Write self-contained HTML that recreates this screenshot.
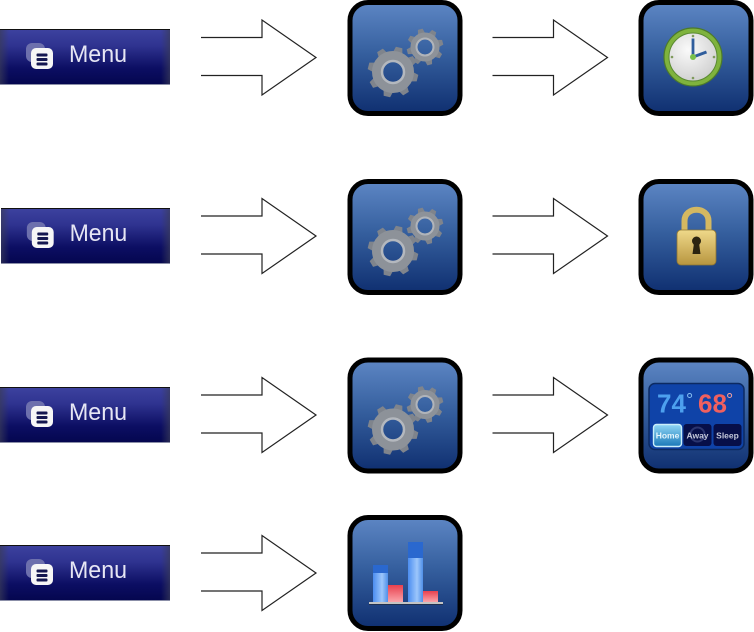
<!DOCTYPE html>
<html>
<head>
<meta charset="utf-8">
<style>
html,body{margin:0;padding:0;background:#fff;width:754px;height:632px;overflow:hidden}
svg{display:block;position:absolute;left:0;top:0}
text{font-family:"Liberation Sans",sans-serif}
</style>
</head>
<body>
<svg width="754" height="632" viewBox="0 0 754 632" xmlns="http://www.w3.org/2000/svg">
<defs>
  <linearGradient id="bg" x1="0" y1="0" x2="0" y2="1">
    <stop offset="0" stop-color="#5d86c4"/>
    <stop offset=".45" stop-color="#36609f"/>
    <stop offset="1" stop-color="#0f2f70"/>
  </linearGradient>
  <linearGradient id="mb" x1="0" y1="0" x2="0" y2="1">
    <stop offset="0" stop-color="#3d429f"/>
    <stop offset=".3" stop-color="#2f3390"/>
    <stop offset=".7" stop-color="#0c0e63"/>
    <stop offset="1" stop-color="#04064e"/>
  </linearGradient>
  <linearGradient id="edgeL" x1="0" y1="0" x2="1" y2="0">
    <stop offset="0" stop-color="#3a3c58" stop-opacity=".7"/>
    <stop offset="1" stop-color="#3a3c58" stop-opacity="0"/>
  </linearGradient>
  <linearGradient id="edgeR" x1="1" y1="0" x2="0" y2="0">
    <stop offset="0" stop-color="#3a3c58" stop-opacity=".7"/>
    <stop offset="1" stop-color="#3a3c58" stop-opacity="0"/>
  </linearGradient>
  <linearGradient id="gold" x1="0" y1="0" x2="0" y2="1">
    <stop offset="0" stop-color="#efd98a"/>
    <stop offset="1" stop-color="#b8953f"/>
  </linearGradient>
  <linearGradient id="bar" x1="0" y1="0" x2="1" y2="0">
    <stop offset="0" stop-color="#4b8df0"/>
    <stop offset=".6" stop-color="#9cc6fb"/>
    <stop offset="1" stop-color="#4f8fe8"/>
  </linearGradient>
  <linearGradient id="red" x1="0" y1="0" x2="0" y2="1">
    <stop offset="0" stop-color="#e8404e"/>
    <stop offset="1" stop-color="#fba5aa"/>
  </linearGradient>
  <linearGradient id="home" x1="0" y1="0" x2="0" y2="1">
    <stop offset="0" stop-color="#8fd6f5"/>
    <stop offset="1" stop-color="#1a78b8"/>
  </linearGradient>
  <radialGradient id="face" cx=".4" cy=".35" r=".8">
    <stop offset="0" stop-color="#fafafa"/>
    <stop offset="1" stop-color="#c9c9c9"/>
  </radialGradient>

  <g id="arrow">
    <path d="M201 37.5H262V20L316 57.5L262 95V75.5H201" fill="#fff" stroke="#222" stroke-width="1.2"/>
  </g>

  <g id="menu">
    <rect x="0" y="0" width="170" height="56" fill="url(#mb)"/>
    <rect x="0" y="1" width="9" height="54" fill="url(#edgeL)"/>
    <rect x="161" y="1" width="9" height="54" fill="url(#edgeR)"/>
    <rect x="0" y="0" width="170" height="1" fill="#111"/>
    <rect x="0" y="55" width="170" height="1" fill="#8b8fa8"/>
    <rect x="26" y="14" width="19" height="19" rx="6" fill="#6d70ad"/>
    <rect x="31" y="19" width="22" height="21" rx="5" fill="#f6f6f6"/>
    <rect x="36.500" y="24.500" width="11" height="3" rx="1" fill="#141750"/>
    <rect x="36.500" y="29" width="11" height="3" rx="1" fill="#141750"/>
    <rect x="36.500" y="33.500" width="11" height="3" rx="1" fill="#141750"/>
    <text x="69" y="33" font-size="24" fill="#e6e6f4" textLength="58" lengthAdjust="spacingAndGlyphs">Menu</text>
  </g>

  <g id="tooth"><path d="M.72 -.2L.99 -.13L.99 .13L.72 .2Z"/></g>
  <g id="gear">
    <use href="#tooth"/>
    <use href="#tooth" transform="rotate(45)"/>
    <use href="#tooth" transform="rotate(90)"/>
    <use href="#tooth" transform="rotate(135)"/>
    <use href="#tooth" transform="rotate(180)"/>
    <use href="#tooth" transform="rotate(225)"/>
    <use href="#tooth" transform="rotate(270)"/>
    <use href="#tooth" transform="rotate(315)"/>
  </g>

  <g id="frame">
    <rect x="2.5" y="2.500" width="110" height="111" rx="18" fill="url(#bg)" stroke="#000" stroke-width="5"/>
  </g>

  <g id="gears">
    <use href="#frame"/>
    <g transform="translate(77.500 47) rotate(-15) scale(18.500)" fill="#7f848c"><use href="#gear"/></g>
    <circle cx="77.500" cy="47" r="11" fill="none" stroke="#8d9299" stroke-width="7"/>
    <circle cx="77.500" cy="47" r="8.500" fill="none" stroke="#b0b4ba" stroke-width="2"/>
    <g transform="translate(45.500 72) rotate(14) scale(25.500)" fill="#7f848c"><use href="#gear"/></g>
    <circle cx="45.500" cy="72" r="15.500" fill="none" stroke="#8d9299" stroke-width="11"/>
    <circle cx="45.500" cy="72" r="11" fill="none" stroke="#b4b8be" stroke-width="2.500"/>
  </g>

  <g id="clock">
    <use href="#frame"/>
    <circle cx="54.500" cy="57" r="29" fill="#7fb33d" stroke="#4c7a2a" stroke-width="1.200"/>
    <circle cx="54.500" cy="57" r="24" fill="url(#face)" stroke="#5a8a32" stroke-width="1"/>
    <circle cx="54.500" cy="36" r="1.300" fill="#7f9a5c"/>
    <circle cx="54.500" cy="78" r="1.300" fill="#7f9a5c"/>
    <circle cx="33.500" cy="57" r="1.300" fill="#7f9a5c"/>
    <circle cx="75.500" cy="57" r="1.300" fill="#7f9a5c"/>
    <path d="M54.500 57V38.500" stroke="#2f5d9c" stroke-width="2.800" fill="none"/>
    <path d="M54.500 57L68 52" stroke="#2f5d9c" stroke-width="3" fill="none"/>
    <circle cx="54.500" cy="57" r="3" fill="#79c04a"/>
  </g>

  <g id="lock">
    <use href="#frame"/>
    <path d="M47.500 54V42C47.500 27 71.500 27 71.500 42V54" transform="translate(-1.500 0)" fill="none" stroke="#d4b861" stroke-width="6"/>
    <rect x="38.500" y="51" width="39" height="35" rx="4" fill="url(#gold)" stroke="#8f7532" stroke-width=".8"/>
    <circle cx="58" cy="62" r="4.500" fill="#2c2410"/>
    <path d="M55.500 64H60.500L62 75H54Z" fill="#2c2410"/>
  </g>

  <g id="thermo">
    <use href="#frame"/>
    <rect x="10.500" y="26" width="95" height="66" rx="6" fill="#0f43a8" stroke="#0c2a62" stroke-width="1.500"/>
    <text x="18.500" y="55" font-size="26" font-weight="bold" fill="#4da0ee">74</text>
    <text x="47.500" y="48.500" font-size="18" fill="#86bdf0">°</text>
    <text x="59.500" y="55" font-size="26" font-weight="bold" fill="#f0605f">68</text>
    <text x="87.500" y="48.500" font-size="18" fill="#f0a0a0">°</text>
    <rect x="15" y="67" width="28" height="22" rx="3" fill="url(#home)" stroke="#c9eefa" stroke-width="1.400"/>
    <rect x="45" y="66.500" width="28" height="22" rx="3" fill="#070f49"/>
    <rect x="75" y="66.500" width="28" height="22" rx="3" fill="#070f49"/>
    <circle cx="59" cy="77" r="7" fill="none" stroke="#2b3570" stroke-width="2"/>
    <text x="29" y="81" font-size="8.500" font-weight="bold" text-anchor="middle" fill="#e6f6fd">Home</text>
    <text x="59" y="81" font-size="8.500" font-weight="bold" text-anchor="middle" fill="#c4c8da">Away</text>
    <text x="89" y="81" font-size="8.500" font-weight="bold" text-anchor="middle" fill="#c4c8da">Sleep</text>
  </g>

  <g id="chart">
    <use href="#frame"/>
    <rect x="25.500" y="50" width="15" height="37" fill="url(#bar)"/>
    <rect x="25.500" y="50" width="15" height="8" fill="#2a68cf"/>
    <rect x="40.500" y="70" width="15" height="17" fill="url(#red)"/>
    <rect x="60.500" y="27" width="15" height="60" fill="url(#bar)"/>
    <rect x="60.500" y="27" width="15" height="16" fill="#2a68cf"/>
    <rect x="75.500" y="76" width="15" height="11" fill="url(#red)"/>
    <rect x="21.500" y="87" width="74" height="2" fill="#c4c4c4"/>
    <rect x="21.500" y="89" width="74" height="1" fill="#20304f"/>
  </g>
</defs>

<use href="#menu" x="0" y="29"/>
<g transform="translate(1 208) scale(.994 1)"><use href="#menu"/></g>
<use href="#menu" x="0" y="387"/>
<use href="#menu" x="0" y="545"/>

<use href="#arrow"/>
<use href="#arrow" transform="translate(291.500 0)"/>
<use href="#arrow" y="178.500"/>
<use href="#arrow" transform="translate(291.500 178.500)"/>
<use href="#arrow" y="357.500"/>
<use href="#arrow" transform="translate(291.500 357.500)"/>
<use href="#arrow" y="515.500"/>

<use href="#gears" x="347.500" y="0"/>
<use href="#gears" x="347.500" y="179"/>
<use href="#gears" x="347.500" y="357.500"/>
<use href="#chart" x="347.500" y="515"/>

<use href="#clock" x="638.500" y="0"/>
<use href="#lock" x="638.500" y="179"/>
<use href="#thermo" x="638.500" y="357.500"/>
</svg>
</body>
</html>
